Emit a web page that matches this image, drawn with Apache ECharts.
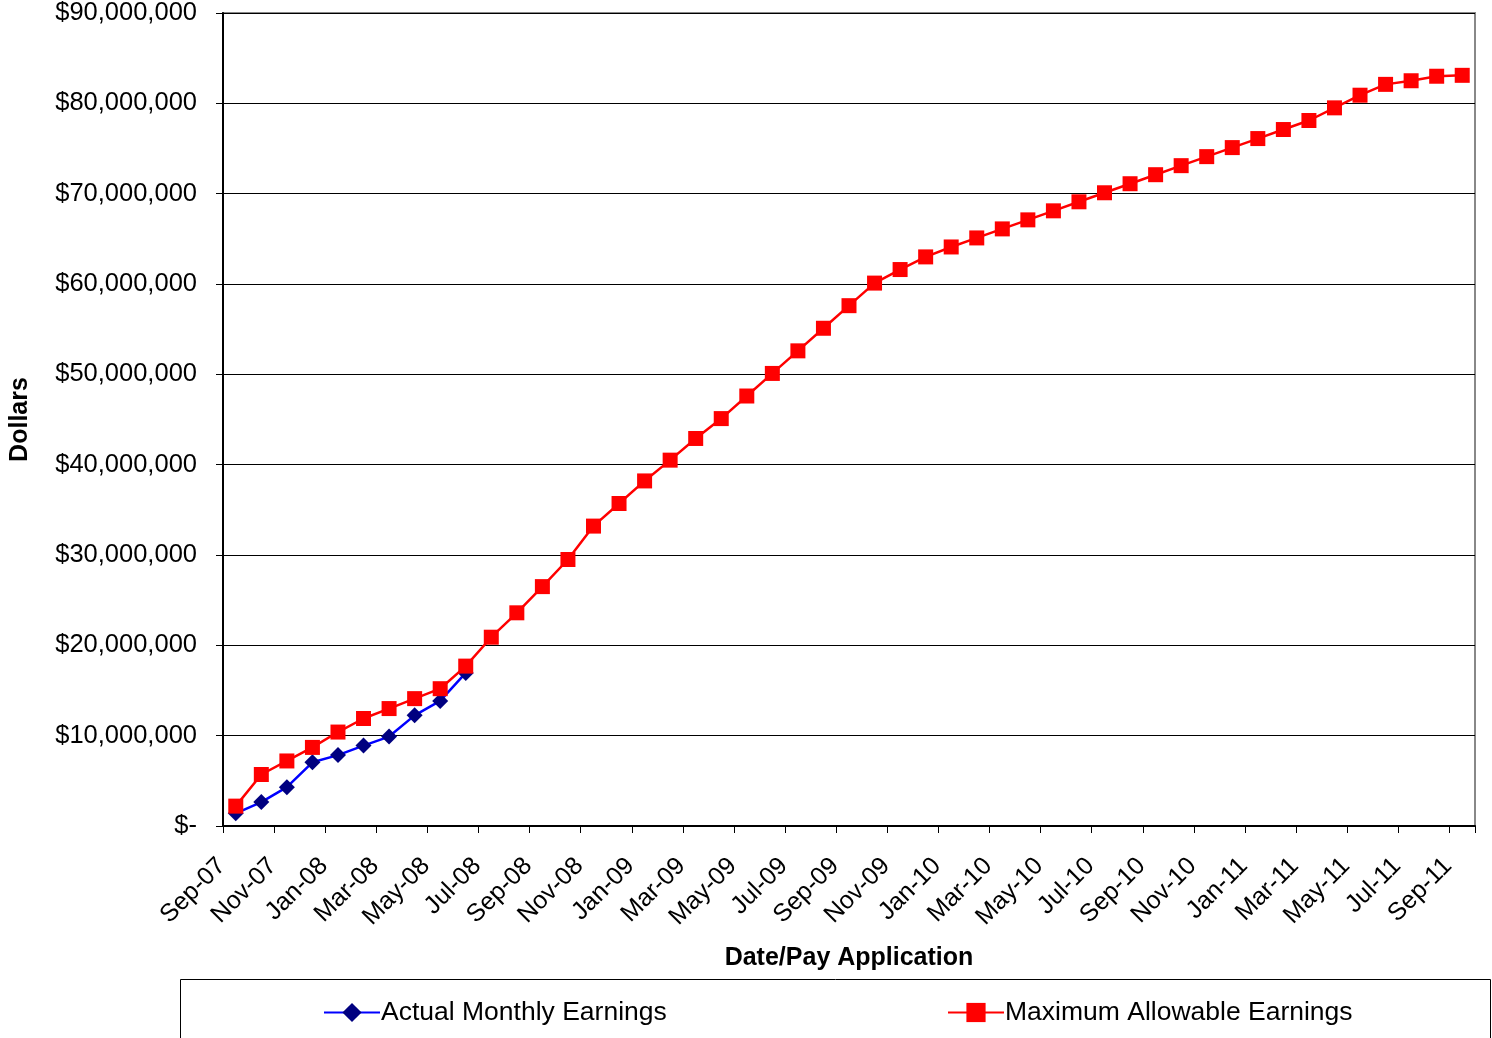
<!DOCTYPE html>
<html>
<head>
<meta charset="utf-8">
<script src="https://cdn.jsdelivr.net/npm/echarts@6/dist/echarts.min.js"></script>
<style>
html,body{margin:0;padding:0;background:#fff;}
#chart{width:1492px;height:1038px;}
</style>
</head>
<body>
<div id="chart"></div>
<script>
const categories = [
  'Sep-07','Oct-07','Nov-07','Dec-07',
  'Jan-08','Feb-08','Mar-08','Apr-08','May-08','Jun-08','Jul-08','Aug-08','Sep-08','Oct-08','Nov-08','Dec-08',
  'Jan-09','Feb-09','Mar-09','Apr-09','May-09','Jun-09','Jul-09','Aug-09','Sep-09','Oct-09','Nov-09','Dec-09',
  'Jan-10','Feb-10','Mar-10','Apr-10','May-10','Jun-10','Jul-10','Aug-10','Sep-10','Oct-10','Nov-10','Dec-10',
  'Jan-11','Feb-11','Mar-11','Apr-11','May-11','Jun-11','Jul-11','Aug-11','Sep-11'
];
const actualMonthlyEarnings = [
  1400000, 2650000, 4300000, 7050000, 7850000, 8900000, 9900000, 12250000, 13850000, 16950000
];
const maximumAllowableEarnings = [
  2200000, 5700000, 7200000, 8700000, 10400000, 11900000, 13000000, 14100000, 15200000, 17700000,
  20900000, 23600000, 26500000, 29500000, 33200000, 35700000, 38200000, 40500000, 42900000, 45100000,
  47600000, 50100000, 52600000, 55100000, 57600000, 60100000, 61600000, 63000000, 64100000, 65100000,
  66100000, 67100000, 68100000, 69100000, 70100000, 71100000, 72100000, 73100000, 74100000, 75100000,
  76100000, 77100000, 78100000, 79500000, 80900000, 82100000, 82500000, 83000000, 83100000
];
const yTicks = { min: 0, max: 90000000, interval: 10000000 };

const FONT = '"Liberation Sans", Arial, sans-serif';
const chart = echarts.init(document.getElementById('chart'));
chart.setOption({
  animation: false,
  backgroundColor: '#fff',
  textStyle: { fontFamily: FONT, color: '#000' },
  grid: {
    left: 220, right: 17, top: 12, bottom: 212,
    show: true, borderColor: '#888', borderWidth: 2, backgroundColor: 'transparent'
  },
  graphic: [{
    type: 'rect',
    shape: { x: 180.5, y: 979.5, width: 1310, height: 70 },
    style: { fill: 'none', stroke: '#000', lineWidth: 1 }
  }],
  legend: [
    {
      data: ['Actual Monthly Earnings'],
      left: 318, top: 994,
      itemWidth: 56, itemHeight: 24, itemGap: 0,
      textStyle: { fontFamily: FONT, fontSize: 26.5, color: '#000', padding: [0,0,0,-4] }
    },
    {
      data: ['Maximum Allowable Earnings'],
      left: 942, top: 994,
      itemWidth: 56, itemHeight: 24, itemGap: 0,
      textStyle: { fontFamily: FONT, fontSize: 26.5, color: '#000', padding: [0,0,0,-4] }
    }
  ],
  xAxis: {
    type: 'category',
    data: categories,
    boundaryGap: true,
    name: 'Date/Pay Application',
    nameLocation: 'middle',
    nameGap: 120,
    nameTextStyle: { fontFamily: FONT, fontSize: 25, fontWeight: 'bold', color: '#000' },
    axisLine: { show: true, lineStyle: { color: '#000', width: 2 } },
    axisTick: { show: true, interval: 1, length: 7, lineStyle: { color: '#000', width: 1 } },
    axisLabel: { interval: 1, rotate: 45, margin: 22, padding: [0, 20, 0, 0], fontSize: 25, color: '#000', fontFamily: FONT },
    splitLine: { show: false }
  },
  yAxis: {
    type: 'value',
    min: yTicks.min, max: yTicks.max, interval: yTicks.interval,
    name: 'Dollars',
    nameLocation: 'middle',
    nameGap: 190,
    nameRotate: 90,
    nameTextStyle: { fontFamily: FONT, fontSize: 25, fontWeight: 'bold', color: '#000' },
    axisLine: { show: true, lineStyle: { color: '#000', width: 2 } },
    axisTick: { show: true, length: 7, lineStyle: { color: '#000', width: 1 } },
    axisLabel: {
      margin: 26, fontSize: 25.5, color: '#000', fontFamily: FONT,
      formatter: v => v === 0 ? '$-' : '$' + v.toLocaleString('en-US')
    },
    splitLine: { show: true, lineStyle: { color: '#000', width: 1 } }
  },
  series: [
    {
      name: 'Actual Monthly Earnings',
      type: 'line',
      data: actualMonthlyEarnings,
      symbol: 'diamond',
      symbolSize: 16,
      z: 3,
      lineStyle: { color: '#0000FF', width: 2.5 },
      itemStyle: { color: '#000080' }
    },
    {
      name: 'Maximum Allowable Earnings',
      type: 'line',
      data: maximumAllowableEarnings,
      symbol: 'rect',
      symbolSize: 15,
      z: 4,
      lineStyle: { color: '#FF0000', width: 2.5 },
      itemStyle: { color: '#FF0000' }
    }
  ]
});
</script>
</body>
</html>
